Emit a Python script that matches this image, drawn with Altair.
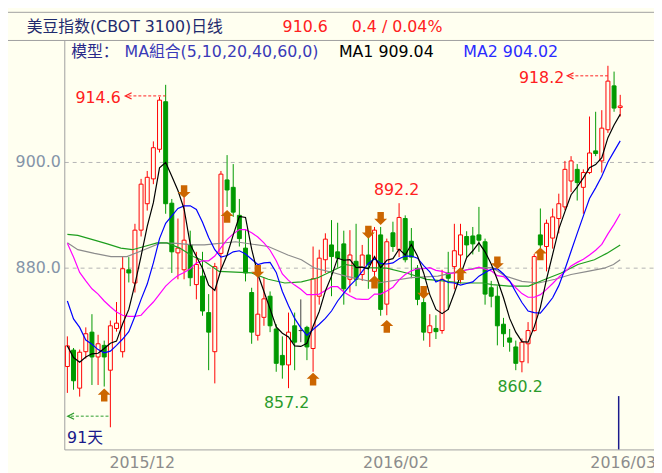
import altair as alt
import pandas as pd

# ---------------- data ----------------
opens = [861.3, 864.4, 857.2, 864.1, 867.8, 863.1, 865.3, 860.6, 868.5, 864.1,
         879.6, 877.1, 887.1, 892.1, 896.8, 902.4, 911.4, 892.2, 882.8, 879.6,
         884.3, 876.8, 878.4, 871.5, 864.1, 882.7, 896.6, 895.2, 889.9, 883.7,
         875.3, 867.2, 870.6, 874.6, 868.4, 863.4, 861.6, 869.0, 868.1, 868.7,
         864.7, 874.6, 881.5, 884.3, 883.0, 884.5, 877.8, 881.2, 878.7, 882.4,
         879.3, 886.2, 873.1, 886.6, 883.4, 889.3, 885.0, 879.9, 873.4, 867.7,
         868.5, 868.1, 879.0, 880.2, 882.4, 885.9, 886.0, 886.2, 884.9, 876.2,
         874.6, 869.3, 866.7, 865.0, 862.2, 865.6, 868.1, 886.2, 884.0, 885.6,
         889.3, 891.5, 896.4, 898.6, 895.2, 898.0, 902.1, 900.2, 906.1, 914.4,
         910.3]
highs = [867.0, 864.8, 864.5, 868.7, 871.2, 867.3, 866.2, 870.0, 873.5, 882.1,
         882.0, 888.3, 896.8, 898.3, 903.9, 912.3, 914.6, 893.0, 889.3, 893.3,
         887.0, 883.0, 883.0, 875.0, 880.9, 898.3, 901.3, 899.6, 893.0, 887.1,
         876.2, 879.3, 878.1, 875.5, 869.3, 867.0, 871.5, 871.5, 874.0, 869.0,
         884.0, 883.4, 886.5, 889.0, 888.5, 887.0, 887.1, 888.3, 884.3, 887.1,
         887.7, 887.7, 885.5, 888.7, 892.2, 889.9, 887.5, 880.5, 875.3, 871.2,
         871.0, 879.6, 883.0, 888.3, 888.3, 886.9, 887.7, 891.5, 885.5, 877.5,
         876.5, 870.5, 868.4, 866.2, 866.6, 869.7, 882.6, 891.2, 889.1, 891.2,
         894.0, 900.2, 901.1, 899.6, 898.6, 908.6, 909.5, 909.8, 918.2, 917.1,
         912.7]
lows = [856.3, 856.9, 855.6, 862.8, 857.8, 857.8, 857.5, 849.8, 867.9, 863.0,
        877.2, 875.3, 885.9, 890.8, 895.8, 901.8, 890.2, 879.0, 877.8, 877.8,
        876.5, 874.0, 870.9, 860.6, 858.1, 879.6, 891.5, 889.6, 884.0, 877.4,
        865.6, 866.2, 869.0, 867.8, 860.3, 859.0, 857.2, 860.6, 865.9, 862.5,
        860.3, 873.0, 879.0, 874.6, 880.0, 873.0, 875.3, 876.5, 877.5, 876.0,
        877.4, 870.9, 871.0, 883.0, 882.0, 881.0, 878.0, 872.9, 866.2, 865.0,
        866.5, 867.5, 872.0, 875.9, 877.0, 882.0, 882.5, 883.0, 873.0, 872.5,
        865.3, 865.0, 864.1, 860.6, 860.2, 861.9, 867.9, 883.7, 879.3, 883.6,
        886.5, 890.9, 894.3, 892.7, 890.2, 897.7, 901.1, 898.0, 905.5, 909.5,
        908.6]
closes = [865.2, 858.6, 864.0, 867.5, 863.1, 865.6, 863.1, 869.0, 869.5, 879.8,
          879.0, 887.1, 895.8, 897.1, 902.7, 911.7, 892.1, 883.0, 883.7, 885.2,
          878.1, 880.6, 871.8, 867.8, 880.2, 897.7, 894.7, 890.5, 885.5, 879.0,
          867.8, 871.2, 874.1, 869.0, 861.9, 861.6, 867.8, 865.9, 868.1, 865.0,
          877.9, 881.8, 885.4, 882.1, 881.8, 876.0, 882.4, 877.8, 882.4, 880.6,
          887.1, 872.1, 884.9, 884.0, 889.5, 881.5, 882.0, 874.0, 867.8, 869.0,
          867.9, 877.8, 878.0, 883.2, 886.2, 884.3, 884.5, 885.2, 875.0, 874.6,
          869.0, 867.5, 865.9, 861.9, 865.9, 868.1, 882.1, 884.3, 888.4, 889.6,
          892.1, 898.6, 900.2, 896.1, 898.0, 901.7, 901.6, 906.4, 915.3, 910.2,
          910.6]

ma5 = [865.2, 863.0, 862.1, 863.1, 863.7, 863.8, 864.7, 865.7, 866.1, 869.4,
       872.1, 876.9, 882.2, 887.8, 892.3, 898.9, 899.9, 897.3, 894.6, 891.1,
       884.4, 882.1, 879.9, 876.7, 875.7, 879.6, 882.4, 886.2, 889.7, 889.5,
       883.5, 878.8, 875.5, 872.2, 868.8, 867.6, 866.9, 865.2, 865.1, 865.7,
       868.9, 871.7, 875.6, 878.4, 881.8, 881.4, 881.5, 880.0, 880.1, 879.8,
       882.1, 880.0, 881.4, 881.7, 883.5, 882.4, 884.4, 882.2, 879.0, 874.9,
       872.1, 871.3, 872.1, 875.2, 878.6, 881.9, 883.2, 884.7, 883.0, 880.7,
       877.7, 874.3, 870.4, 867.8, 866.0, 865.9, 868.8, 872.5, 877.8, 882.5,
       887.3, 890.6, 893.8, 895.3, 897.0, 898.9, 899.5, 900.8, 904.6, 907.0,
       909.0]
ma10 = [873.7, 870.3, 868.7, 866.3, 865.5, 864.5, 863.9, 864.2, 865.3, 866.5,
        867.9, 870.8, 874.0, 876.9, 880.9, 885.5, 888.4, 889.8, 891.2, 891.7,
        891.7, 891.0, 888.6, 885.7, 883.4, 882.0, 882.3, 883.0, 883.2, 882.6,
        881.6, 880.6, 880.9, 881.0, 879.1, 875.5, 872.8, 870.4, 868.6, 867.2,
        868.3, 869.3, 870.4, 871.8, 873.7, 875.2, 876.6, 877.8, 879.3, 880.8,
        881.7, 880.8, 880.7, 880.9, 881.7, 882.2, 882.2, 881.8, 880.4, 879.2,
        877.3, 877.8, 877.2, 877.1, 876.7, 877.0, 877.3, 878.4, 879.1, 879.7,
        879.8, 878.8, 877.5, 875.4, 873.4, 871.8, 871.5, 871.4, 872.8, 874.3,
        876.6, 879.7, 883.1, 886.5, 889.8, 893.1, 895.1, 897.3, 900.0, 902.0,
        904.0]
ma20 = [884.6, 882.0, 879.1, 877.5, 876.0, 875.0, 873.7, 872.6, 871.6, 871.0,
        870.8, 870.8, 871.0, 872.3, 873.5, 875.0, 876.5, 877.6, 878.5, 879.1,
        879.8, 880.9, 881.3, 881.3, 882.2, 883.8, 885.3, 886.4, 887.2, 887.2,
        886.6, 885.8, 884.7, 883.3, 881.3, 878.8, 877.6, 876.7, 875.9, 874.9,
        874.9, 875.0, 875.7, 876.4, 876.4, 875.4, 874.7, 874.1, 874.0, 874.0,
        875.0, 875.0, 875.6, 876.3, 877.7, 878.7, 879.4, 879.8, 879.8, 880.0,
        879.5, 879.3, 878.9, 879.0, 879.2, 879.6, 879.7, 880.1, 879.7, 879.4,
        878.5, 878.3, 877.4, 876.2, 875.1, 874.4, 874.4, 874.9, 875.9, 877.0,
        878.2, 879.2, 880.3, 881.0, 881.6, 882.4, 883.3, 884.4, 886.4, 888.2,
        890.2]
ma40_x = [0, 1.7, 4.4, 6.5, 8.7, 10.6, 12.5, 14.6, 16.2, 18.3, 20.5, 22.3, 24.7,
          30, 32.7, 35.4, 38.1, 40.8, 43.5, 45.3, 48.2, 52, 55.2, 58.5, 61.1,
          64.3, 67.6, 69.2, 71.9, 75.1, 77.8, 80.4, 83.1, 85.8, 87.8, 90]
ma40_v = [886.3, 886.1, 885.2, 884.5, 883.7, 883.4, 884.0, 884.7, 884.7, 883.7,
          882.1, 881.2, 879.3, 879.0, 877.8, 877.1, 877.3, 878.1, 879.6, 880.6,
          880.0, 879.9, 879.0, 877.8, 877.5, 877.1, 877.1, 876.8, 876.5, 876.5,
          877.8, 879.0, 880.6, 881.5, 882.7, 884.3]
ma60_x = [0, 1.7, 4.4, 7.1, 9.7, 12.5, 15.2, 17.8, 20.5, 22.3, 27.4, 32.7, 35.9,
          38.1, 40.3, 43.5, 45.3, 50.6, 56, 60.3, 63.8, 66.4, 69.2, 71.3, 74,
          76.7, 79.4, 82, 84.7, 87.4, 88.9, 90]
ma60_v = [884.7, 883.4, 882.7, 882.1, 882.1, 883.4, 884.7, 884.6, 884.3, 884.3,
          884.9, 884.0, 882.4, 881.5, 879.9, 879.0, 878.4, 877.1, 878.1, 878.4,
          879.3, 879.9, 880.0, 878.4, 877.4, 877.1, 877.8, 878.7, 879.3, 879.9,
          880.6, 881.5]

arrow_i = [6, 19, 26, 31, 40, 49, 51, 50, 52, 58, 64, 70, 77]
arrow_v = [855.9, 894.4, 889.7, 879.3, 858.9, 886.7, 889.3, 877.3, 868.9, 875.3, 878.9, 880.9, 882.6]
arrow_dir = ["up", "down", "up", "down", "up", "down", "down", "up", "up", "down", "up", "down", "up"]

x_label_pos = [12.1, 53.4, 90.4]
x_labels = ["2015/12", "2016/02", "2016/03"]
y_ticks = [880, 900]

ann_text = ["914.6", "918.2", "892.2", "857.2", "860.2", "91天"]
ann_i = [5.0, 77.2, 53.6, 35.7, 73.7, 2.88]
ann_v = [912.1, 915.9, 894.6, 854.4, 857.4, 847.8]
ann_color = ["#ff2020", "#ff2020", "#ff2020", "#2b9b2b", "#2b9b2b", "#1a1a8a"]

lead_i = [9.95, 81.9, 0.58]
lead_i2 = [16.0, 88.0, 6.9]
lead_v = [912.5, 916.3, 851.9]
lead_color = ["#ff2020", "#ff2020", "#2b9b2b"]

header_text = ["美豆指数(CBOT 3100)日线", "910.6", "0.4 / 0.04%",
               "模型：", "MA組合(5,10,20,40,60,0)", "MA1 909.04", "MA2 904.02"]

# ---------------- styling ----------------
BG = "#fffff0"
RED = "#ff0000"
GREEN = "#009900"
DOJI = "#404040"
FONT = "DejaVu Sans, Noto Sans CJK SC"
CJK = "Noto Sans CJK SC"
W, H = 597, 414

xscale = alt.Scale(domain=[-0.5, 95.5], nice=False, zero=False, padding=0)
yscale = alt.Scale(domain=[845.61, 922.99], nice=False, zero=False, padding=0)

df = pd.DataFrame({"i": list(range(len(opens))), "open": opens, "high": highs,
                   "low": lows, "close": closes})
df["dir"] = ["up" if c > o else ("down" if c < o else "flat") for o, c in zip(opens, closes)]

label_expr = " : ".join(
    [f"abs(datum.value - {p}) < 1 ? '{t}'" for p, t in zip(x_label_pos, x_labels)]) + " : ''"

xaxis = alt.Axis(values=x_label_pos, labelExpr=label_expr, ticks=False, grid=False,
                 domain=True, domainColor="#a0a0a0", domainWidth=1,
                 labelColor="#8c8c8c", labelFont=FONT, labelFontSize=16,
                 labelPadding=5, labelOverlap=False, labelBound=False, labelFlush=False,
                 title=None)
yaxis = alt.Axis(values=y_ticks, format=".1f", ticks=False, domain=True,
                 domainColor="#a0a0a0", domainWidth=1, grid=True, gridColor="#b4b4b4",
                 gridDash=[4, 4], gridWidth=1, labelColor="#8494a8", labelFont=FONT,
                 labelFontSize=16, labelPadding=4, title=None)

dir_dom = ["up", "down", "flat"]
X = alt.X("i:Q", scale=xscale, title=None)

wick = alt.Chart(df).mark_rule(strokeWidth=1).encode(
    x=alt.X("i:Q", scale=xscale, axis=xaxis, title=None),
    y=alt.Y("low:Q", scale=yscale, axis=yaxis, title=None),
    y2="high:Q",
    color=alt.Color("dir:N", scale=alt.Scale(domain=dir_dom, range=[RED, GREEN, DOJI]), legend=None),
)
body = alt.Chart(df).mark_bar(width=4, strokeWidth=1).encode(
    x=X,
    y=alt.Y("open:Q", scale=yscale, title=None),
    y2="close:Q",
    stroke=alt.Stroke("dir:N", scale=alt.Scale(domain=dir_dom, range=[RED, GREEN, DOJI]), legend=None),
    fill=alt.Fill("dir:N", scale=alt.Scale(domain=dir_dom, range=[BG, GREEN, DOJI]), legend=None),
)

def ma_layer(xs, vs, color):
    d = pd.DataFrame({"i": xs, "v": vs})
    return alt.Chart(d).mark_line(color=color, strokeWidth=1.2).encode(
        x=X, y=alt.Y("v:Q", scale=yscale, title=None),
    )

idx = list(range(len(opens)))
ma_layers = [
    ma_layer(ma60_x, ma60_v, "#8c8c8c"),
    ma_layer(ma40_x, ma40_v, "#1e9e1e"),
    ma_layer(idx, ma20, "#ff00ff"),
    ma_layer(idx, ma10, "#0000ff"),
    ma_layer(idx, ma5, "#000000"),
]

UP = "M0,-1L1,-0.05L0.5,-0.05L0.5,1L-0.5,1L-0.5,-0.05L-1,-0.05Z"
DOWN = "M0,1L1,0.05L0.5,0.05L0.5,-1L-0.5,-1L-0.5,0.05L-1,0.05Z"
adf = pd.DataFrame({"i": arrow_i, "v": arrow_v, "dir": arrow_dir})
arrows = alt.Chart(adf).mark_point(filled=True, opacity=1, size=170, color="#cc6600").encode(
    x=X, y=alt.Y("v:Q", scale=yscale, title=None),
    shape=alt.Shape("dir:N", scale=alt.Scale(domain=["up", "down"], range=[UP, DOWN]), legend=None),
)

ldf = pd.DataFrame({"i": lead_i, "i2": lead_i2, "v": lead_v, "c": lead_color})
leads = alt.Chart(ldf).mark_rule(strokeWidth=1, strokeDash=[3, 2]).encode(
    x=X, x2="i2:Q", y=alt.Y("v:Q", scale=yscale, title=None),
    color=alt.Color("c:N", scale=None),
)
heads = alt.Chart(ldf).mark_point(shape="M1,-1L-1,0L1,1", filled=False, size=40,
                                  strokeWidth=1.3, opacity=1).encode(
    x=X, y=alt.Y("v:Q", scale=yscale, title=None),
    color=alt.Color("c:N", scale=None),
)

tdf = pd.DataFrame({"t": ann_text, "i": ann_i, "v": ann_v, "c": ann_color})
texts = alt.Chart(tdf).mark_text(font=FONT, fontSize=16, align="center", baseline="middle").encode(
    x=X, y=alt.Y("v:Q", scale=yscale, title=None),
    text="t:N",
    color=alt.Color("c:N", scale=None),
)

cursor = alt.Chart(pd.DataFrame({"i": [89.75], "v": [855.7]})).mark_rule(
    color="#1a1a8c", strokeWidth=1.5).encode(
    x=X, y=alt.Y("v:Q", scale=yscale, title=None), y2=alt.value(H),
)

one = pd.DataFrame({"a": [0]})

def htext(t, px, py, color, font=FONT):
    return alt.Chart(one).mark_text(font=font, fontSize=16, align="left", baseline="middle",
                                    color=color).encode(
        x=alt.value(px), y=alt.value(py), text=alt.value(t))

header = [
    htext(header_text[0], -38, -13.5, "#1f2b6e"),
    htext(header_text[1], 221, -13.5, "#ff2020"),
    htext(header_text[2], 291, -13.5, "#ff2020"),
    htext(header_text[3], 7, 12, "#2a2a8a", CJK),
    htext(header_text[4], 61, 12, "#3a3ab8"),
    htext(header_text[5], 278, 12, "#000000"),
    htext(header_text[6], 404, 12, "#2b2bff"),
]

def hline(py):
    return alt.Chart(one).mark_rule(color="#a0a0a0", strokeWidth=1).encode(
        x=alt.value(-57), x2=alt.value(W), y=alt.value(py))

chart = alt.layer(
    wick, body, *ma_layers, arrows, leads, heads, texts, cursor,
    hline(-28.5), hline(0), *header
).properties(
    width=W, height=H,
    background=BG,
    padding={"left": 57, "top": 30, "right": 0, "bottom": 21},
    autosize=alt.AutoSizeParams(type="none"),
).configure_view(stroke=None)

chart.save("out.html", embed_options={"renderer": "svg", "actions": False})
